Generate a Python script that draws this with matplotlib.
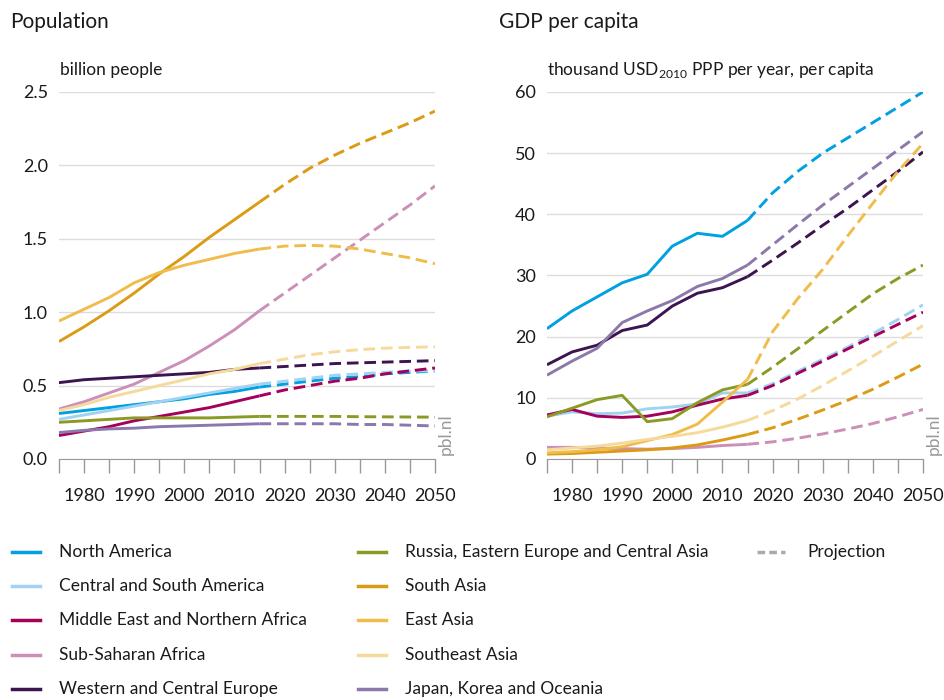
import numpy as np
import matplotlib.pyplot as plt
from matplotlib.lines import Line2D

plt.rcParams['font.family'] = ['Lato', 'DejaVu Sans']

years = [1975, 1980, 1985, 1990, 1995, 2000, 2005, 2010, 2015,
         2020, 2025, 2030, 2035, 2040, 2045, 2050]
last_hist = 2015

regions = ['North America', 'Central and South America', 'Middle East and Northern Africa',
           'Sub-Saharan Africa', 'Western and Central Europe',
           'Russia, Eastern Europe and Central Asia', 'South Asia', 'East Asia',
           'Southeast Asia', 'Japan, Korea and Oceania']
colors = ['#00a0e1', '#a0d2f2', '#a5005a', '#cc90b8', '#3c1450',
          '#8c9a25', '#dc9b14', '#f0bc4c', '#f5da9b', '#8c78aa']

# population, billion people
pop_north_america = [0.31, 0.33, 0.35, 0.37, 0.39, 0.41, 0.44, 0.46, 0.49, 0.51, 0.53, 0.55, 0.56, 0.58, 0.59, 0.60]
pop_central_south_america = [0.27, 0.30, 0.33, 0.36, 0.39, 0.42, 0.45, 0.48, 0.51, 0.53, 0.55, 0.57, 0.58, 0.59, 0.60, 0.60]
pop_middle_east = [0.16, 0.19, 0.22, 0.26, 0.29, 0.32, 0.35, 0.39, 0.43, 0.47, 0.50, 0.53, 0.55, 0.58, 0.60, 0.62]
pop_sub_saharan = [0.34, 0.39, 0.45, 0.51, 0.59, 0.67, 0.77, 0.88, 1.01, 1.13, 1.25, 1.37, 1.49, 1.61, 1.73, 1.86]
pop_western_europe = [0.52, 0.54, 0.55, 0.56, 0.57, 0.58, 0.59, 0.61, 0.62, 0.63, 0.64, 0.65, 0.655, 0.66, 0.665, 0.67]
pop_russia = [0.25, 0.26, 0.27, 0.28, 0.28, 0.28, 0.28, 0.285, 0.29, 0.29, 0.29, 0.29, 0.288, 0.287, 0.286, 0.285]
pop_south_asia = [0.80, 0.90, 1.01, 1.13, 1.26, 1.38, 1.51, 1.63, 1.75, 1.87, 1.98, 2.07, 2.15, 2.22, 2.29, 2.37]
pop_east_asia = [0.94, 1.02, 1.10, 1.20, 1.27, 1.32, 1.36, 1.40, 1.43, 1.45, 1.455, 1.45, 1.43, 1.40, 1.37, 1.33]
pop_southeast_asia = [0.33, 0.37, 0.42, 0.46, 0.50, 0.54, 0.58, 0.61, 0.65, 0.68, 0.71, 0.73, 0.745, 0.755, 0.76, 0.765]
pop_japan_oceania = [0.18, 0.195, 0.205, 0.21, 0.22, 0.225, 0.23, 0.235, 0.24, 0.24, 0.24, 0.24, 0.235, 0.235, 0.23, 0.225]

# GDP per capita, thousand USD2010 PPP
gdp_north_america = [21.3, 24.2, 26.5, 28.8, 30.2, 34.8, 36.9, 36.4, 39.0, 43.5, 47.0, 50.0, 52.5, 55.0, 57.5, 60.0]
gdp_central_south_america = [7.0, 7.7, 7.4, 7.5, 8.2, 8.5, 9.0, 10.8, 10.8, 12.3, 14.3, 16.3, 18.3, 20.5, 22.8, 25.2]
gdp_middle_east = [7.2, 8.1, 7.0, 6.8, 7.0, 7.7, 8.8, 9.8, 10.4, 12.0, 14.0, 16.0, 18.0, 20.0, 22.0, 24.0]
gdp_sub_saharan = [1.9, 1.9, 1.8, 1.7, 1.6, 1.7, 1.9, 2.2, 2.4, 2.8, 3.4, 4.1, 4.9, 5.8, 6.9, 8.1]
gdp_western_europe = [15.4, 17.5, 18.6, 21.0, 21.9, 25.0, 27.1, 28.0, 29.8, 32.5, 35.3, 38.2, 41.0, 44.0, 47.0, 50.2]
gdp_russia = [6.9, 8.3, 9.7, 10.4, 6.1, 6.6, 9.2, 11.3, 12.2, 15.0, 18.0, 21.0, 24.0, 27.0, 29.5, 31.7]
gdp_south_asia = [0.8, 0.9, 1.1, 1.3, 1.5, 1.8, 2.3, 3.1, 4.0, 5.1, 6.5, 8.0, 9.6, 11.4, 13.4, 15.5]
gdp_east_asia = [1.0, 1.2, 1.5, 2.0, 3.0, 4.0, 5.7, 9.3, 13.0, 20.8, 26.2, 31.0, 36.5, 41.8, 47.0, 51.6]
gdp_southeast_asia = [1.5, 1.8, 2.1, 2.6, 3.2, 3.7, 4.3, 5.2, 6.3, 7.9, 9.8, 12.0, 14.4, 16.8, 19.3, 21.8]
gdp_japan_oceania = [13.7, 16.0, 18.1, 22.3, 24.2, 25.9, 28.2, 29.5, 31.7, 35.0, 38.3, 41.5, 44.5, 47.5, 50.5, 53.5]

population = [pop_north_america, pop_central_south_america, pop_middle_east, pop_sub_saharan,
              pop_western_europe, pop_russia, pop_south_asia, pop_east_asia,
              pop_southeast_asia, pop_japan_oceania]
gdp = [gdp_north_america, gdp_central_south_america, gdp_middle_east, gdp_sub_saharan,
       gdp_western_europe, gdp_russia, gdp_south_asia, gdp_east_asia,
       gdp_southeast_asia, gdp_japan_oceania]

text_color = '#1a1a1a'
lw = 2.1

fig = plt.figure(figsize=(9.45, 7.0), dpi=100)
ax1 = fig.add_axes([0.0624, 0.3443, 0.3979, 0.5243])
ax2 = fig.add_axes([0.5788, 0.3443, 0.3979, 0.5243])

def draw_panel(ax, data, ymax, yticks, ylabels):
    yrs = np.array(years)
    hist = yrs <= last_hist
    proj = yrs >= last_hist
    for vals, c in zip(data, colors):
        vals = np.array(vals)
        ax.plot(yrs[hist], vals[hist], color=c, lw=lw, solid_capstyle='butt')
        ax.plot(yrs[proj], vals[proj], color=c, lw=lw, dashes=(4, 2), dash_capstyle='butt')
    ax.set_xlim(1975, 2050)
    ax.set_ylim(0, ymax)
    ax.set_yticks(yticks)
    ax.set_yticklabels(ylabels)
    ax.set_xticks(range(1980, 2051, 10))
    ax.set_xticks(range(1975, 2051, 5), minor=True)
    ax.grid(axis='y', color='#dcdcdc', lw=1)
    ax.set_axisbelow(True)
    for s in ['top', 'right', 'left']:
        ax.spines[s].set_visible(False)
    ax.spines['bottom'].set_color('#999999')
    ax.tick_params(axis='x', which='both', direction='out', length=10, width=1,
                   color='#999999', labelsize=13, labelcolor=text_color, pad=11)
    ax.tick_params(axis='y', length=0, labelsize=13, labelcolor=text_color, pad=8)
    ax.text(1.028, 0.01, 'pbl.nl', transform=ax.transAxes, rotation=90,
            color='#999999', fontsize=12.5, ha='center', va='bottom')

draw_panel(ax1, population, 2.5, [0, 0.5, 1.0, 1.5, 2.0, 2.5],
           ['0.0', '0.5', '1.0', '1.5', '2.0', '2.5'])
draw_panel(ax2, gdp, 60, [0, 10, 20, 30, 40, 50, 60],
           ['0', '10', '20', '30', '40', '50', '60'])

fig.text(10 / 945, 1 - 22 / 700, 'Population', fontsize=15, color=text_color, va='center')
fig.text(60 / 945, 1 - 70 / 700, 'billion people', fontsize=12.5, color=text_color, va='center')
fig.text(499 / 945, 1 - 22 / 700, 'GDP per capita', fontsize=15, color=text_color, va='center')
fig.text(547 / 945, 1 - 70 / 700, r'thousand USD$_\mathregular{2010}$ PPP per year, per capita',
         fontsize=12.5, color=text_color, va='center')

# legend, drawn by hand in three columns
col_x = [12, 358, 757]
row_y = [552, 586, 620, 655, 689]
for i, (name, c) in enumerate(zip(regions, colors)):
    cx = col_x[i // 5]
    cy = 1 - row_y[i % 5] / 700
    fig.add_artist(Line2D([cx / 945, (cx + 28) / 945], [cy, cy], color=c, lw=2.5,
                          transform=fig.transFigure))
    fig.text((cx + 47) / 945, cy, name, fontsize=12.5, color=text_color, va='center')
cy = 1 - row_y[0] / 700
cx = col_x[2]
fig.add_artist(Line2D([cx / 945, (cx + 28) / 945], [cy, cy], color='#aaaaaa', lw=2.5,
                      dashes=(2.2, 1.2), transform=fig.transFigure))
fig.text((cx + 50) / 945, cy, 'Projection', fontsize=12.5, color=text_color, va='center')

fig.savefig('out.png', dpi=100)
